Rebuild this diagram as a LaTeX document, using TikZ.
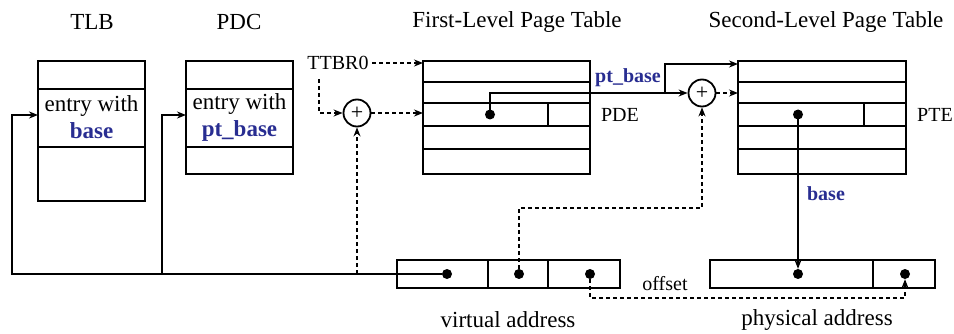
\documentclass[tikz,border=0pt]{standalone}
\usepackage{fontspec}
\setmainfont{Liberation Serif}
\usetikzlibrary{arrows.meta,positioning}
\definecolor{keyblue}{RGB}{40,45,145}

\begin{document}
\begin{tikzpicture}[
  x=1pt,y=-1pt,
  >={Stealth[length=9pt,width=7pt]},
  tablebox/.style={draw,line width=2.1pt,inner sep=0pt,outer sep=0pt,anchor=north west},
  rule/.style={line width=2.1pt},
  heading/.style={font=\fontsize{23}{27}\selectfont},
  tag/.style={font=\fontsize{20}{24}\selectfont},
  key/.style={font=\fontsize{20}{24}\selectfont\bfseries,text=keyblue},
  adder/.style={circle,draw,line width=1.8pt,minimum size=27pt,inner sep=0pt,font=\fontsize{22}{22}\selectfont},
  dot/.style={circle,fill,minimum size=10pt,inner sep=0pt},
  link/.style={->,line width=1.8pt},
  dlink/.style={->,line width=1.8pt,dash pattern=on 4pt off 3pt}
]
  \useasboundingbox (0,0) rectangle (954,334);

  % caches
  \node[tablebox,minimum width=107pt,minimum height=140pt] (tlb) at (38,61) {};
  \node[tablebox,minimum width=107pt,minimum height=113pt] (pdc) at (186,61) {};
  \foreach \r in {28,86} {
    \draw[rule] ([yshift=-\r pt]tlb.north west) -- ([yshift=-\r pt]tlb.north east);
    \draw[rule] ([yshift=-\r pt]pdc.north west) -- ([yshift=-\r pt]pdc.north east);
  }
  \node[heading] (tlbname) at (92,22) {TLB};
  \node[heading] (pdcname) at (239,22) {PDC};
  \node[heading,align=center] (tlbtxt) at (91.5,117) {entry with\\{\color{keyblue}\bfseries base}};
  \node[heading,align=center] (pdctxt) at (239.5,117) {entry with\\{\color{keyblue}\bfseries pt\_base}};

  % page tables
  \node[tablebox,minimum width=167pt,minimum height=113pt] (fl) at (423,61) {};
  \node[tablebox,minimum width=168pt,minimum height=113pt] (sl) at (738,61) {};
  \foreach \r in {21,42,65,88} {
    \draw[rule] ([yshift=-\r pt]fl.north west) -- ([yshift=-\r pt]fl.north east);
    \draw[rule] ([yshift=-\r pt]sl.north west) -- ([yshift=-\r pt]sl.north east);
  }
  \draw[rule] ([xshift=125pt,yshift=-42pt]fl.north west) -- ++(0,23);
  \draw[rule] ([xshift=126pt,yshift=-42pt]sl.north west) -- ++(0,23);
  \node[heading] (flname) at (517,22) {First-Level Page Table};
  \node[heading] (slname) at (826,22) {Second-Level Page Table};
  \node[tag] (pde) at (620,115) {PDE};
  \node[tag] (pte) at (935,115) {PTE};
  \node[dot] (fldot) at (490,114.5) {};
  \node[dot] (sldot) at (798,114.5) {};

  % addresses
  \node[tablebox,minimum width=223pt,minimum height=28pt] (va) at (397,260) {};
  \node[tablebox,minimum width=225pt,minimum height=28pt] (pa) at (710,260) {};
  \foreach \c in {91,151}
    \draw[rule] ([xshift=\c pt]va.north west) -- ([xshift=\c pt]va.south west);
  \draw[rule] ([xshift=163pt]pa.north west) -- ([xshift=163pt]pa.south west);
  \node[dot] (va1) at (447,274) {};
  \node[dot] (va2) at (519,274) {};
  \node[dot] (va3) at (590,274) {};
  \node[dot] (pa1) at (798,274) {};
  \node[dot] (pa2) at (905,274) {};
  \node[heading] (vaname) at (508,320) {virtual address};
  \node[heading] (paname) at (817,320) {physical address};

  % adders and labels
  \node[tag] (ttbr) at (338,63) {TTBR0};
  \node[adder] (add1) at (357,113) {+};
  \node[adder] (add2) at (702,93) {+};
  \node[key] (ptb) at (628,78) {pt\_base};
  \node[key] (bs) at (826,194) {base};
  \node[tag] (off) at (665,284) {offset};
  \coordinate (tlbin) at (38,115);
  \coordinate (pdcin) at (186,115);

  % connectors
  \draw[link] (va1) -| ([xshift=-26pt]tlbin) -- (tlbin);
  \draw[link] ([xshift=-24pt]pdcin |- va1) |- (pdcin);
  \draw[dlink] (add1 |- va1) -- (add1);
  \draw[dlink] (ttbr) -- (ttbr -| fl.west);
  \draw[dlink] ([xshift=-19pt,yshift=-6pt]ttbr.south) |- (add1);
  \draw[dlink] (add1) -- (add1 -| fl.west);
  \draw[link] (fldot.center) |- (add2);
  \draw[link] ([xshift=-37pt]add2.center) |- ([yshift=-3pt]sl.north west);
  \draw[dlink] (add2) -- (add2 -| sl.west);
  \draw[dlink] (va2) |- ([yshift=-115pt]add2.center) -- (add2);
  \draw[link] (sldot.center) -- (pa1);
  \draw[dlink] (va3) |- ([yshift=-24pt]pa2.center) -- (pa2);
\end{tikzpicture}
\end{document}
